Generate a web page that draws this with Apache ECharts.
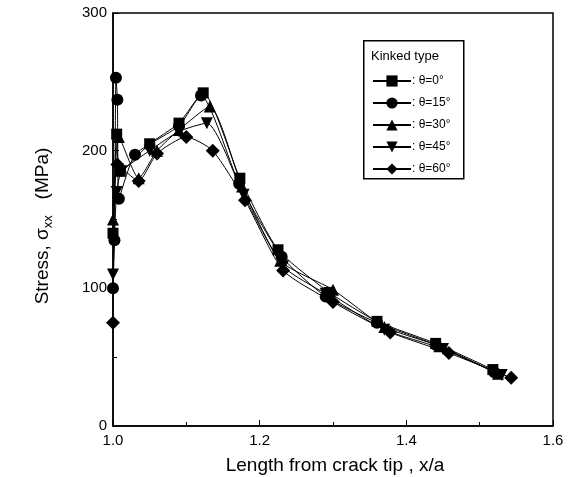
<!DOCTYPE html>
<html><head><meta charset="utf-8">
<script src="https://cdn.jsdelivr.net/npm/echarts@6/dist/echarts.min.js"></script>
<style>html,body{margin:0;padding:0;background:#fff}#c{width:578px;height:477px}</style>
</head><body><div id="c"></div>
<script>
const seriesNames = [': θ=0°', ': θ=15°', ': θ=30°', ': θ=45°', ': θ=60°'];
const seriesSymbols = ['rect', 'circle', 'triangle', 'path://M0,0 L10,0 L5,9 Z', 'diamond'];
const s0 = [[1.000,140],[1.005,212],[1.010,185],[1.050,205],[1.090,220],[1.123,242],[1.173,180],[1.225,128],[1.295,97],[1.360,76],[1.440,60],[1.518,41]];
const s15 = [[1.000,100],[1.002,135],[1.004,253],[1.006,237],[1.008,165],[1.030,197],[1.090,218],[1.120,240],[1.172,176],[1.230,123],[1.290,94],[1.360,75],[1.440,59],[1.520,39]];
const s30 = [[1.000,150],[1.008,210],[1.035,180],[1.060,200],[1.090,215],[1.132,232],[1.176,174],[1.228,120],[1.300,99],[1.370,72],[1.445,58],[1.525,38]];
const s45 = [[1.000,110],[1.005,170],[1.012,185],[1.050,200],[1.090,214],[1.128,220],[1.178,168],[1.232,116],[1.290,96],[1.370,70],[1.450,56],[1.530,37]];
const s60 = [[1.000,75],[1.006,190],[1.035,178],[1.060,198],[1.100,210],[1.136,200],[1.180,164],[1.232,113],[1.300,90],[1.378,68],[1.458,53],[1.543,35]];
const allData = [s0, s15, s30, s45, s60];
const xTicks = [1.0, 1.2, 1.4, 1.6];
const yTicks = [0, 100, 200, 300];

const font = 'Liberation Sans, Arial, sans-serif';
const chart = echarts.init(document.getElementById('c'), null, {renderer:'canvas'});
const series = allData.map((d, i) => ({
  name: seriesNames[i], type: 'line', data: d, smooth: 0.2,
  symbol: seriesSymbols[i], symbolSize: i === 4 ? 14 : (i === 0 ? 11 : 12),
  itemStyle: {color: '#000'}, lineStyle: {color: '#000', width: 1},
  z: 3
}));
chart.setOption({
  animation: false,
  grid: {left: 113, right: 25, top: 13, bottom: 51, show: true, borderColor: '#000', borderWidth: 1.5, backgroundColor: 'transparent'},
  xAxis: {type: 'value', min: 1.0, max: 1.6, interval: 0.2,
    axisLine: {lineStyle: {color: '#000', width: 1.5}},
    axisTick: {inside: true, length: 6, lineStyle: {color: '#000'}},
    minorTick: {show: true, splitNumber: 2, length: 4, lineStyle: {color: '#000'}},
    splitLine: {show: false},
    axisLabel: {color: '#000', fontSize: 15, fontFamily: font, margin: 7, formatter: v => v.toFixed(1)}},
  yAxis: {type: 'value', min: 0, max: 300, interval: 100,
    axisLine: {lineStyle: {color: '#000', width: 1.5}},
    axisTick: {inside: true, length: 6, lineStyle: {color: '#000'}},
    minorTick: {show: true, splitNumber: 2, length: 4, lineStyle: {color: '#000'}},
    splitLine: {show: false},
    axisLabel: {color: '#000', fontSize: 15, fontFamily: font, margin: 6}},
  legend: {orient: 'vertical', left: 367, top: 70, itemGap: 10, itemWidth: 38, itemHeight: 14,
    textStyle: {color: '#000', fontSize: 12, fontFamily: font, padding: [0,0,0,-4]},
    data: seriesNames},
  graphic: [
    {type: 'rect', left: 363, top: 40, shape: {width: 100, height: 138}, style: {fill: 'transparent', stroke: '#000', lineWidth: 1.5}, z: 10},
    {type: 'text', left: 371, top: 50, style: {text: 'Kinked type', fill: '#000', font: '13px ' + font}, z: 10},
    {type: 'text', x: 335, y: 466, style: {text: 'Length from crack tip , x/a', fill: '#000', font: '19px ' + font, textAlign: 'center', textVerticalAlign: 'middle'}},
    {type: 'text', x: 43, y: 226, rotation: Math.PI/2, style: {
      text: '{a|Stress, σ}{s|xx}{a|   (MPa)}', textAlign: 'center', textVerticalAlign: 'middle',
      rich: {a: {fontSize: 19, fontFamily: font, fill: '#000'}, s: {fontSize: 13, fontFamily: font, fill: '#000', padding: [10,0,0,0]}}}}
  ],
  series: series
});
</script></body></html>
